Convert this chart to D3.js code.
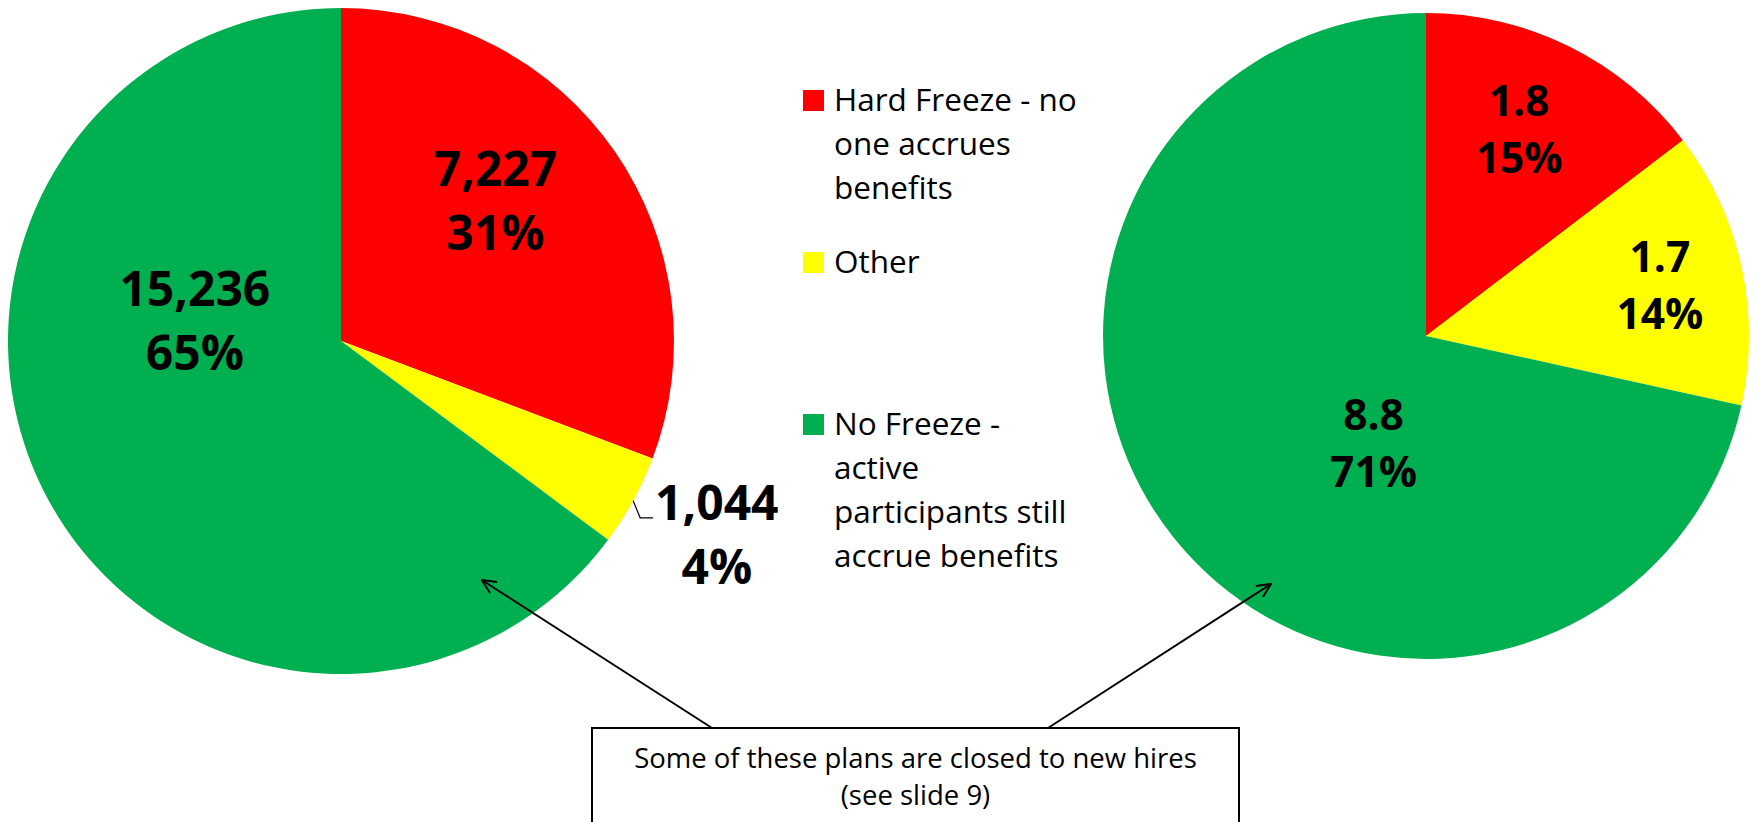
<!DOCTYPE html>
<html>
<head>
<meta charset="utf-8">
<script src="https://cdn.jsdelivr.net/npm/d3@7"></script>
<style>
  body { margin: 0; background: #fff; }
  text { font-family: "Open Sans", sans-serif; }
</style>
</head>
<body>
<div id="chart"></div>
<script>
// Data

var categories = ["Hard Freeze - no one accrues benefits", "Other", "No Freeze - active participants still accrue benefits"];
var legendLines = [["Hard Freeze - no", "one accrues", "benefits"], ["Other"], ["No Freeze -", "active", "participants still", "accrue benefits"]];
var plansValues = [7227, 1044, 15236];
var plansLabels = ["7,227", "1,044", "15,236"];
var plansPercents = ["31%", "4%", "65%"];
var participantsValues = [1.8, 1.7, 8.8];
var participantsLabels = ["1.8", "1.7", "8.8"];
var participantsPercents = ["15%", "14%", "71%"];
var noteText = ["Some of these plans are closed to new hires", "(see slide 9)"];

// Colors

var colors = d3.scaleOrdinal()
  .domain(categories)
  .range(["#FF0000", "#FFFF00", "#00B050"]);

var w = 1758;
var h = 822;

var svg = d3.select("div#chart")
  .append("svg")
    .attr("width", w)
    .attr("height", h);

svg.append("rect")
  .attr("width", w)
  .attr("height", h)
  .attr("fill", "#fff");

var pie = d3.pie().sort(null).value(d => d);

// where Excel put each label: [angle in degrees, fraction of radius]
var pies = [
  {values: plansValues, labels: plansLabels, percents: plansPercents,
   cx: 341, cy: 341, r: 333, size: 48,
   place: [[47.8, 0.626], [117.3, 1.27], [277.8, 0.443]]},
  {values: participantsValues, labels: participantsLabels, percents: participantsPercents,
   cx: 1426, cy: 336, r: 323, size: 42.5,
   place: [[24.2, 0.703], [77.7, 0.741], [206.1, 0.369]]}
];

function pointAt(p, deg, frac) {
  var a = deg * Math.PI / 180;
  var c = d3.arc().innerRadius(p.r * frac).outerRadius(p.r * frac)
    .startAngle(a).endAngle(a).centroid();
  return [p.cx + c[0], p.cy + c[1]];
}

pies.forEach(function(p) {
  var arcs = pie(p.values);
  var g = svg.append("g")
    .attr("transform", `translate(${p.cx},${p.cy})`);

  g.selectAll("path")
    .data(arcs)
    .enter()
    .append("path")
    .attr("d", d3.arc().innerRadius(0).outerRadius(p.r))
    .attr("fill", (d, i) => colors(categories[i]));

  var lh = p.size * 1.34;
  arcs.forEach(function(d, i) {
    var pos = pointAt(p, p.place[i][0], p.place[i][1]);
    var t = svg.append("text")
      .attr("text-anchor", "middle")
      .attr("font-weight", "bold")
      .attr("font-size", p.size)
      .attr("fill", "#000");
    t.append("tspan")
      .attr("x", pos[0])
      .attr("y", pos[1] - lh / 2 + p.size * 0.36)
      .text(p.labels[i]);
    t.append("tspan")
      .attr("x", pos[0])
      .attr("y", pos[1] + lh / 2 + p.size * 0.36)
      .text(p.percents[i]);

    // leader line for labels sitting outside the pie
    if (p.place[i][1] > 1) {
      var mid = (d.startAngle + d.endAngle) / 2 * 180 / Math.PI;
      var p1 = pointAt(p, mid, 1);
      var p2 = [p1[0] + 7, p1[1] + 17];
      var p3 = [p2[0] + 13, p2[1]];
      svg.append("polyline")
        .attr("points", [p1, p2, p3].map(q => q.join(",")).join(" "))
        .attr("fill", "none")
        .attr("stroke", "#000")
        .attr("stroke-width", 1.2);
    }
  });
});

// Legend

var legend = svg.append("g")
  .attr("transform", "translate(803,0)");

var entryTop = [90, 252, 414];
legendLines.forEach(function(lines, i) {
  legend.append("rect")
    .attr("x", 0)
    .attr("y", entryTop[i])
    .attr("width", 21)
    .attr("height", 21)
    .attr("fill", colors(categories[i]));
  var t = legend.append("text")
    .attr("font-size", 31.5)
    .attr("fill", "#000");
  lines.forEach(function(s, j) {
    t.append("tspan")
      .attr("x", 31)
      .attr("y", entryTop[i] + 21 + j * 44)
      .text(s);
  });
});

// Note box with arrows

svg.append("defs").append("marker")
  .attr("id", "head")
  .attr("viewBox", "0 0 16 16")
  .attr("refX", 15)
  .attr("refY", 8)
  .attr("markerWidth", 16)
  .attr("markerHeight", 16)
  .attr("markerUnits", "userSpaceOnUse")
  .attr("orient", "auto")
  .append("path")
    .attr("d", "M1,1.5 L15,8 L1,14.5")
    .attr("fill", "none")
    .attr("stroke", "#000")
    .attr("stroke-width", 2);

var box = {x: 592, y: 728, w: 647, h: 120};

var tips = [pointAt(pies[0], 149.5, 0.833), pointAt(pies[1], 212, 0.905)];
var starts = [[712, box.y], [1048, box.y]];
tips.forEach(function(tp, i) {
  svg.append("line")
    .attr("x1", starts[i][0])
    .attr("y1", starts[i][1])
    .attr("x2", tp[0])
    .attr("y2", tp[1])
    .attr("stroke", "#000")
    .attr("stroke-width", 2)
    .attr("marker-end", "url(#head)");
});

svg.append("rect")
  .attr("x", box.x)
  .attr("y", box.y)
  .attr("width", box.w)
  .attr("height", box.h)
  .attr("fill", "#fff")
  .attr("stroke", "#000")
  .attr("stroke-width", 2);

var note = svg.append("text")
  .attr("text-anchor", "middle")
  .attr("font-size", 27.5)
  .attr("fill", "#000");
noteText.forEach(function(s, j) {
  note.append("tspan")
    .attr("x", box.x + box.w / 2)
    .attr("y", 768 + j * 37)
    .text(s);
});
</script>
</body>
</html>
